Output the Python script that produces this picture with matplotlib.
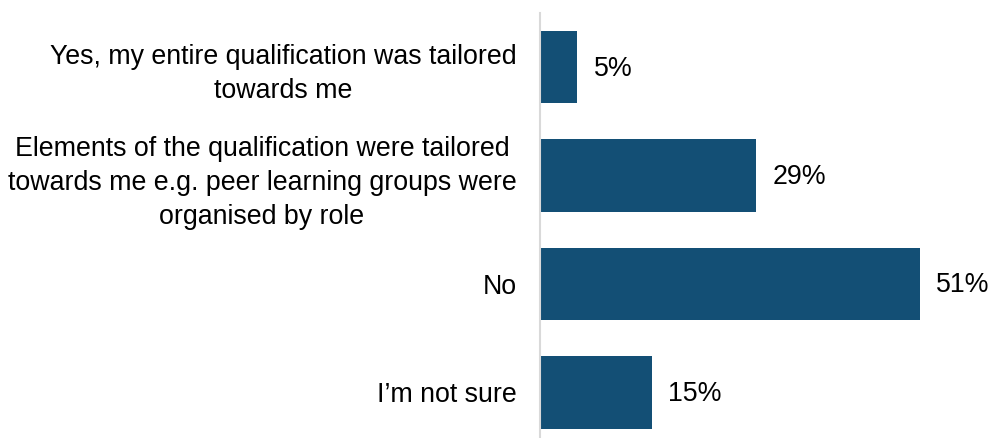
import matplotlib.pyplot as plt

categories = [
    "Yes, my entire qualification was tailored\ntowards me",
    "Elements of the qualification were tailored\ntowards me e.g. peer learning groups were\norganised by role",
    "No",
    "I\u2019m not sure",
]
values = [5, 29, 51, 15]
value_labels = ["5%", "29%", "51%", "15%"]

plt.rcParams["font.family"] = ["Liberation Sans", "DejaVu Sans"]

fig = plt.figure(figsize=(9.92, 4.38), dpi=100)
ax = fig.add_axes([540 / 992, 0, 452 / 992, 425 / 438])

pos = list(range(len(categories)))
ax.barh(pos, values, height=0.667, color="#134f75")

# percentage labels just past the end of each bar
for p, v, lab in zip(pos, values, value_labels):
    ax.annotate(lab, (v, p), xytext=(12, -1), textcoords="offset points",
                va="center", ha="left", fontsize=19.3)

ax.set_xlim(0, 60.7)
ax.set_ylim(3.42, -0.5)
ax.set_yticks(pos)
ax.set_yticklabels(categories, fontsize=19.3, multialignment="center", linespacing=1.4)
ax.tick_params(axis="y", length=0, pad=17)
ax.set_xticks([])

for side in ["top", "right", "bottom"]:
    ax.spines[side].set_visible(False)
ax.spines["left"].set_color("#d9d9d9")
ax.spines["left"].set_linewidth(1.5)

fig.savefig("out.png", dpi=100)
